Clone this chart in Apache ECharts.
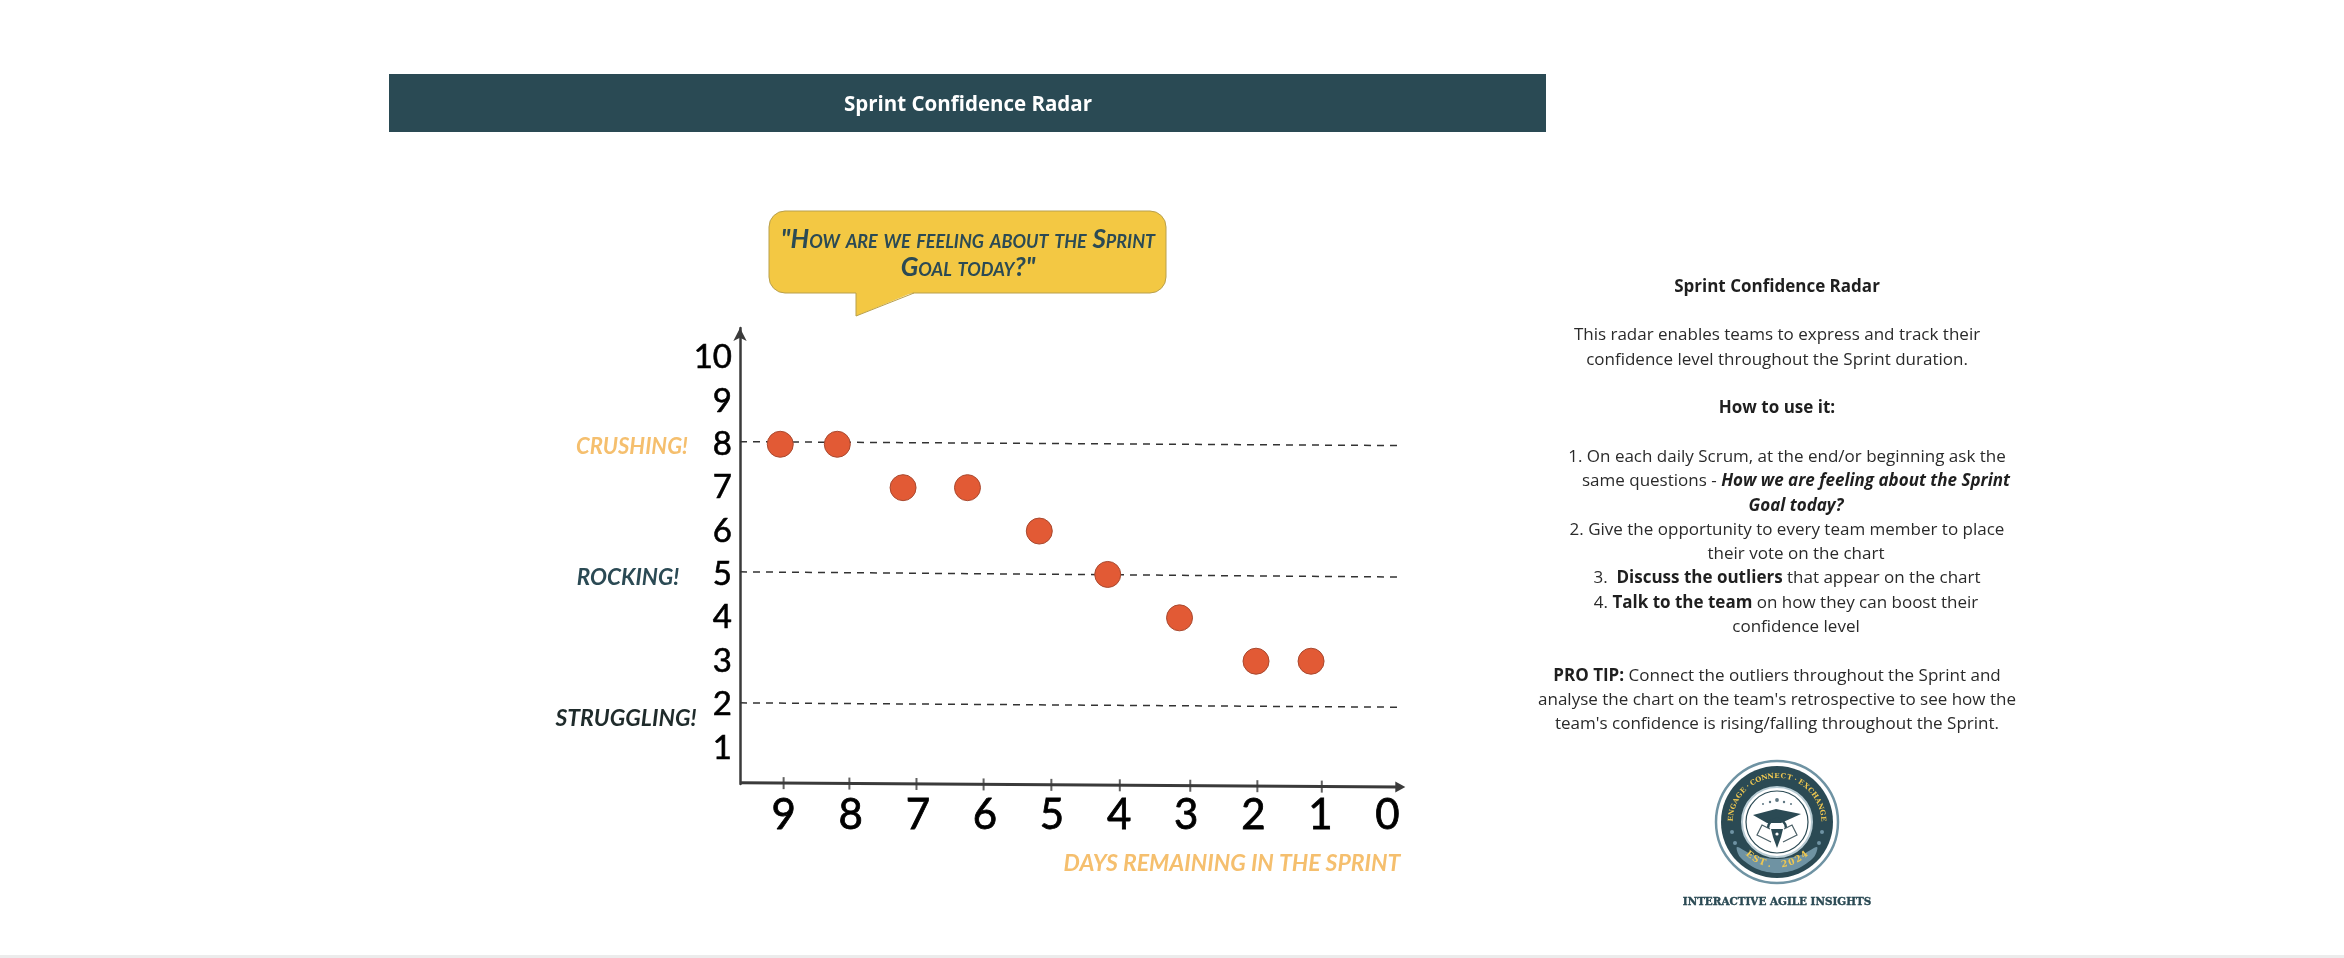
<!DOCTYPE html>
<html>
<head>
<meta charset="utf-8">
<title>Sprint Confidence Radar</title>
<style>
  html, body { margin: 0; padding: 0; background: #fff; }
  #chart { width: 2344px; height: 958px; }
</style>
<script src="https://cdn.jsdelivr.net/npm/echarts@6/dist/echarts.min.js"></script>
</head>
<body>
<div id="chart"></div>
<script>
const daysTicks = [9, 8, 7, 6, 5, 4, 3, 2, 1, 0]
const confidenceTicks = [1, 2, 3, 4, 5, 6, 7, 8, 9, 10]

// votes: [days remaining, confidence]
const voteDays = [9.05, 8.2, 7.22, 6.26, 5.19, 4.17, 3.1, 1.96, 1.14]
const voteScores = [8, 8, 7, 7, 6, 5, 4, 3, 3]

// the sketch is hand drawn so the lines lean a little
const guideDays = [9.65, -0.17]
const guideCrushing = [8.06, 7.97]
const guideRocking = [5.06, 4.94]
const guideStruggling = [2.04, 1.94]
const baselineDays = [9.65, -0.19]
const baselineScores = [0.2, 0.1]
const tickDays = [9, 8.02, 7.02, 6.02, 5.01, 3.99, 2.94, 1.94, 0.98]
const tickScores = [0.19, 0.18, 0.17, 0.16, 0.15, 0.14, 0.13, 0.12, 0.11]

const panelLines = [
  '{b|Sprint Confidence Radar}',
  '',
  'This radar enables teams to express and track their',
  'confidence level throughout the Sprint duration.',
  '',
  '{b|How to use it:}',
  '',
  '1. On each daily Scrum, at the end/or beginning ask the',
  'same questions - {bi|How we are feeling about the Sprint}',
  '{bi|Goal today?}',
  '2. Give the opportunity to every team member to place',
  'their vote on the chart',
  '3.  {b|Discuss the outliers} that appear on the chart',
  '4. {b|Talk to the team} on how they can boost their',
  'confidence level',
  '',
  '{b|PRO TIP:} Connect the outliers throughout the Sprint and',
  "analyse the chart on the team's retrospective to see how the",
  "team's confidence is rising/falling throughout the Sprint."
]
const panelCentres = [1777, 0, 1777, 1777, 0, 1777, 0, 1787, 1796, 1796, 1787, 1796, 1787, 1786, 1796, 0, 1777, 1777, 1777]

const DARK = '#2b4a54'
const AMBER = '#f5bf6e'
const HAND = 'Lato'

const chart = echarts.init(document.getElementById('chart'), null, { renderer: 'canvas' })

const handText = (text, x, y, size, color, caps) => ({
  type: 'text',
  x,
  y,
  z: 10,
  style: {
    text,
    font: `italic ${caps ? 'small-caps ' : ''}700 ${size}px ${HAND}`,
    fill: color,
    align: 'center',
    verticalAlign: 'middle'
  }
})

const panelText = () =>
  panelLines.map((line, i) => ({
    type: 'text',
    x: panelCentres[i],
    y: 287 + i * 24.3,
    z: 10,
    silent: true,
    style: {
      text: line,
      fontFamily: 'Open Sans',
      fontSize: 17,
      fill: '#2a2a2a',
      align: 'center',
      verticalAlign: 'middle',
      rich: {
        b: { fontFamily: 'Open Sans', fontSize: 17, fontWeight: 700, fill: '#1f1f1f' },
        bi: { fontFamily: 'Open Sans', fontSize: 17, fontWeight: 700, fontStyle: 'italic', fill: '#1f1f1f' }
      }
    }
  })).filter((el) => el.style.text !== '')

const arcText = (text, cx, cy, r, startDeg, endDeg, size, color) => {
  const chars = text.split('')
  const step = (endDeg - startDeg) / (chars.length - 1)
  return chars.map((c, i) => {
    const a = ((startDeg + i * step) * Math.PI) / 180
    return {
      type: 'text',
      x: cx + r * Math.sin(a),
      y: cy - r * Math.cos(a),
      rotation: -a,
      z: 13,
      style: {
        text: c,
        font: `700 ${size}px "DejaVu Serif"`,
        fill: color,
        align: 'center',
        verticalAlign: 'middle'
      }
    }
  })
}

const logo = () => {
  const cx = 1777
  const cy = 822
  const parts = [
    { type: 'circle', shape: { cx, cy, r: 61 }, z: 11, style: { fill: '#fff', stroke: '#6f93a3', lineWidth: 2.5 } },
    { type: 'circle', shape: { cx, cy, r: 56 }, z: 11, style: { fill: DARK } },
    { type: 'circle', shape: { cx, cy, r: 35 }, z: 12, style: { fill: '#fff', stroke: '#b7cbd3', lineWidth: 2 } },
    { type: 'circle', shape: { cx, cy, r: 31 }, z: 12, style: { fill: '#fff', stroke: DARK, lineWidth: 1.2 } },
    // band at the bottom
    {
      type: 'polygon',
      z: 12,
      shape: { points: [[cx - 40, cy + 25], [cx - 24, cy + 33], [cx, cy + 37], [cx + 24, cy + 33], [cx + 40, cy + 25], [cx + 37, cy + 35], [cx + 20, cy + 47], [cx, cy + 51], [cx - 20, cy + 47], [cx - 37, cy + 35]], smooth: 0.3 },
      style: { fill: '#6f93a3' }
    },
    // mortarboard
    { type: 'polygon', z: 13, shape: { points: [[cx - 24, cy - 7], [cx - 1, cy - 13], [cx + 24, cy - 8], [cx + 4, cy + 1], [cx - 10, cy + 1]] }, style: { fill: DARK } },
    { type: 'arc', z: 13, shape: { cx, cy: cy + 6, r: 9, startAngle: Math.PI, endAngle: 2 * Math.PI }, style: { fill: 'none', stroke: DARK, lineWidth: 2.5 } },
    // pen nib
    { type: 'polygon', z: 13, shape: { points: [[cx - 6, cy + 7], [cx + 6, cy + 7], [cx + 4, cy + 15], [cx, cy + 26], [cx - 4, cy + 15]] }, style: { fill: DARK } },
    { type: 'circle', shape: { cx, cy: cy + 12, r: 1.6 }, z: 14, style: { fill: '#fff' } },
    // open book
    { type: 'polyline', z: 13, shape: { points: [[cx - 6, cy + 20], [cx - 20, cy + 13], [cx - 15, cy + 3], [cx - 7, cy + 7]] }, style: { fill: 'none', stroke: '#4a5f66', lineWidth: 1.2 } },
    { type: 'polyline', z: 13, shape: { points: [[cx + 6, cy + 20], [cx + 20, cy + 13], [cx + 15, cy + 3], [cx + 7, cy + 7]] }, style: { fill: 'none', stroke: '#4a5f66', lineWidth: 1.2 } }
  ]
  const dots = [[-14, -18, 1], [-7, -20, 1.2], [0, -22, 1.9], [7, -20, 1.2], [14, -18, 1]]
  dots.forEach(([dx, dy, r]) => {
    parts.push({ type: 'circle', z: 13, shape: { cx: cx + dx, cy: cy + dy, r }, style: { fill: '#5d7580' } })
  })
  const sideMarks = [[-45, 10], [-42, 21], [45, 10], [42, 21]]
  sideMarks.forEach(([dx, dy]) => {
    parts.push({ type: 'circle', z: 13, shape: { cx: cx + dx, cy: cy + dy, r: 2 }, style: { fill: '#6f93a3' } })
  })
  return parts
    .concat(arcText('ENGAGE·CONNECT·EXCHANGE', cx, cy, 46, -86, 86, 7, '#f0c850'))
    .concat(
      'EST. 2024'.split('').map((c, i) => {
        const a = ((-40 + i * 10) * Math.PI) / 180
        return {
          type: 'text',
          x: cx + 43 * Math.sin(a),
          y: cy + 43 * Math.cos(a),
          rotation: a,
          z: 13,
          style: { text: c, font: '700 9px "DejaVu Serif"', fill: '#f0c850', align: 'center', verticalAlign: 'middle' }
        }
      })
    )
}

const option = {
  animation: false,
  backgroundColor: '#fff',
  grid: { left: 740, right: 939, top: 328, bottom: 174 },
  xAxis: {
    type: 'value',
    inverse: true,
    min: -0.26,
    max: 9.65,
    splitLine: { show: false },
    axisLine: { show: false },
    axisTick: { show: false },
    axisLabel: {
      customValues: daysTicks,
      margin: 10,
      color: '#000',
      fontFamily: 'Lato',
      fontSize: 42,
      lineHeight: 42,
      textBorderColor: '#000',
      textBorderWidth: 0.8
    }
  },
  yAxis: {
    type: 'value',
    min: 0.17,
    max: 10.68,
    splitLine: { show: false },
    axisTick: { show: false },
    axisLine: {
      show: true,
      onZero: false,
      symbol: ['none', 'arrow'],
      symbolSize: [10, 13],
      lineStyle: { color: '#3a3a3a', width: 2.5 }
    },
    axisLabel: {
      customValues: confidenceTicks,
      margin: 8,
      color: '#000',
      fontFamily: 'Lato',
      fontSize: 33,
      padding: [5, 0, 0, 0],
      textBorderColor: '#000',
      textBorderWidth: 0.6
    }
  },
  series: [
    ...[guideCrushing, guideRocking, guideStruggling].map((levels) => ({
      type: 'line',
      silent: true,
      symbol: 'none',
      clip: false,
      data: guideDays.map((d, i) => [d, levels[i]]),
      lineStyle: { color: '#333', width: 1.5, type: [7, 6] },
      z: 2
    })),
    {
      type: 'line',
      silent: true,
      clip: false,
      showSymbol: true,
      data: baselineDays.map((d, i) => ({
        value: [d, baselineScores[i]],
        symbol: i === baselineDays.length - 1 ? 'triangle' : 'none',
        symbolSize: [11, 10],
        symbolRotate: -90
      })),
      itemStyle: { color: '#3a3a3a' },
      lineStyle: { color: '#3a3a3a', width: 3 },
      z: 3
    },
    {
      type: 'scatter',
      silent: true,
      clip: false,
      symbol: 'rect',
      symbolSize: [2, 12],
      data: tickDays.map((d, i) => [d, tickScores[i]]),
      itemStyle: { color: '#3a3a3a' },
      z: 3
    },
    {
      type: 'scatter',
      silent: true,
      clip: false,
      symbol: 'circle',
      symbolSize: 26,
      data: voteDays.map((d, i) => [d, voteScores[i]]),
      itemStyle: { color: '#e25a35', borderColor: '#a9492f', borderWidth: 1, opacity: 1 },
      z: 5
    }
  ],
  graphic: [
    { type: 'rect', z: 1, shape: { x: 389, y: 74, width: 1157, height: 58 }, style: { fill: '#2a4a54' } },
    {
      type: 'text',
      x: 968,
      y: 105,
      z: 10,
      style: { text: 'Sprint Confidence Radar', font: '700 20.5px "Open Sans"', fill: '#fff', align: 'center', verticalAlign: 'middle' }
    },
    // speech bubble
    { type: 'rect', z: 4, shape: { x: 769, y: 211, width: 397, height: 82, r: 16 }, style: { fill: '#f3c843', stroke: '#b9a04c', lineWidth: 1 } },
    { type: 'polygon', z: 4, shape: { points: [[856, 292], [914, 292], [856, 316]] }, style: { fill: '#f3c843' } },
    { type: 'polyline', z: 4, shape: { points: [[856, 293], [856, 316], [914, 293]] }, style: { fill: 'none', stroke: '#b9a04c', lineWidth: 1 } },
    handText('"How are we feeling about the Sprint', 968, 240, 26, DARK, true),
    handText('Goal today?"', 968, 268, 26, DARK, true),
    handText('CRUSHING!', 632, 447, 22, AMBER),
    handText('ROCKING!', 628, 578, 22.5, DARK),
    handText('STRUGGLING!', 626, 719, 23, '#1f2b2b'),
    handText('DAYS REMAINING IN THE SPRINT', 1232, 864, 23, AMBER),
    ...panelText(),
    ...logo(),
    {
      type: 'text',
      x: 1777,
      y: 902,
      z: 10,
      style: { text: 'INTERACTIVE AGILE INSIGHTS', font: '700 10.4px "DejaVu Serif"', fill: DARK, stroke: DARK, lineWidth: 0.4, align: 'center', verticalAlign: 'middle' }
    },
    // strip along the bottom of the page
    { type: 'rect', z: 1, shape: { x: 0, y: 955, width: 2344, height: 3 }, style: { fill: '#ececec' } }
  ]
}

chart.setOption(option)
</script>
</body>
</html>
